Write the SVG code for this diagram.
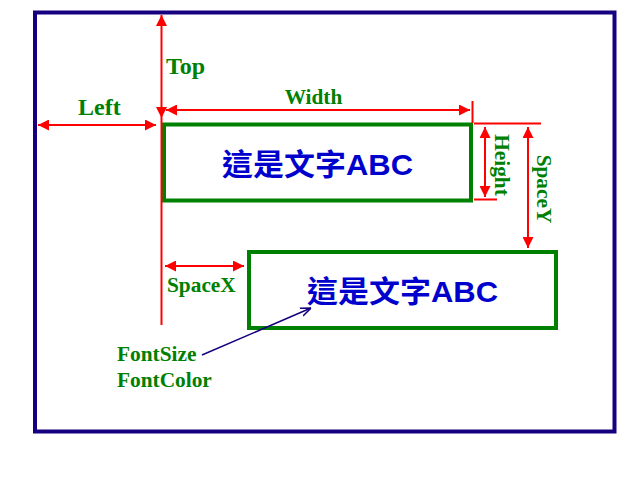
<svg xmlns="http://www.w3.org/2000/svg" width="640" height="480" viewBox="0 0 640 480">
<style>
.frame{fill:none;stroke:#16007f;stroke-width:4}
.box{fill:#fff;stroke:#008000;stroke-width:4}
.txt{font-family:"Liberation Sans","Noto Sans CJK TC",sans-serif;font-size:30px;font-weight:bold;fill:#0000cc;text-anchor:middle}
.lbl{font-family:"Liberation Serif",serif;font-weight:bold;fill:#008000;font-size:21.33px}
.big{font-size:24px}
.dim{stroke:#ff0000;stroke-width:2;fill:none}
.ptr{stroke:#16007f;stroke-width:1.5;fill:none}
</style>
<defs>
<marker id="ar" viewBox="0 0 10 10" refX="10" refY="5" markerWidth="5.5" markerHeight="5.5" orient="auto-start-reverse" markerUnits="strokeWidth">
<path d="M0,0 L10,5 L0,10 z" fill="#ff0000"/>
</marker>
<marker id="ap" viewBox="0 0 10 10" refX="10" refY="5" markerWidth="7" markerHeight="7" orient="auto" markerUnits="strokeWidth">
<path d="M0,1 L10,5 L0,9" fill="none" stroke="#16007f" stroke-width="1.5"/>
</marker>
</defs>
<rect class="frame" x="35" y="12.5" width="579.5" height="419"/>
<g id="box1">
<rect class="box" x="164" y="124.5" width="307" height="76"/>
<text class="txt" x="317.5" y="175" textLength="191" lengthAdjust="spacingAndGlyphs">這是文字ABC</text>
</g>
<g id="box2">
<rect class="box" x="249" y="252" width="307" height="76"/>
<text class="txt" x="402.5" y="302" textLength="191" lengthAdjust="spacingAndGlyphs">這是文字ABC</text>
</g>
<g id="connectors">
<line class="dim" x1="161.5" y1="118" x2="161.5" y2="325"/>
<line class="dim" x1="161.5" y1="15" x2="161.5" y2="118" marker-start="url(#ar)" marker-end="url(#ar)"/>
<line class="dim" x1="38" y1="125" x2="156" y2="125" marker-start="url(#ar)" marker-end="url(#ar)"/>
<line class="dim" x1="166" y1="110" x2="470" y2="110" marker-start="url(#ar)" marker-end="url(#ar)"/>
<line class="dim" x1="472.5" y1="101" x2="472.5" y2="123"/>
<line class="dim" x1="474" y1="123.5" x2="541" y2="123.5"/>
<line class="dim" x1="474" y1="199.5" x2="497" y2="199.5"/>
<line class="dim" x1="485" y1="127" x2="485" y2="197" marker-start="url(#ar)" marker-end="url(#ar)"/>
<line class="dim" x1="528" y1="127" x2="528" y2="248" marker-start="url(#ar)" marker-end="url(#ar)"/>
<line class="dim" x1="165" y1="266" x2="244" y2="266" marker-start="url(#ar)" marker-end="url(#ar)"/>
<line class="ptr" x1="202" y1="355" x2="311" y2="308" marker-end="url(#ap)"/>
</g>
<g id="labels">
<text class="lbl big" x="166" y="74">Top</text>
<text class="lbl big" x="78" y="115">Left</text>
<text class="lbl" x="313.5" y="104" text-anchor="middle">Width</text>
<text class="lbl" transform="translate(495,165) rotate(90)" text-anchor="middle">Height</text>
<text class="lbl" transform="translate(537,189) rotate(90)" text-anchor="middle">SpaceY</text>
<text class="lbl" x="167" y="292">SpaceX</text>
<text class="lbl" x="117" y="361">FontSize</text>
<text class="lbl" x="117" y="387">FontColor</text>
</g>
</svg>
